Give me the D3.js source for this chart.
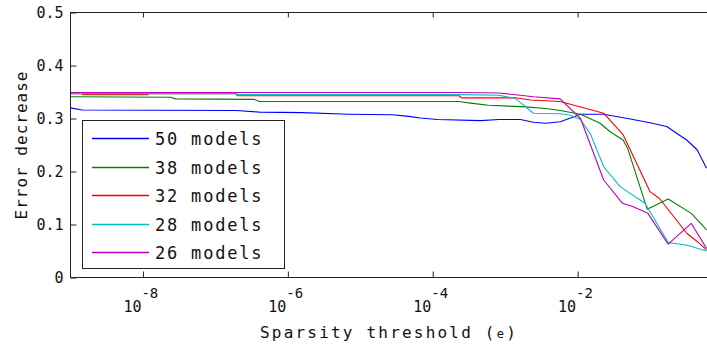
<!DOCTYPE html>
<html>
<head>
<meta charset="utf-8">
<script src="https://cdn.jsdelivr.net/npm/d3@7"></script>
<style>
  body { margin: 0; background: #fff; }
  text { font-family: "DejaVu Sans Mono", monospace; fill: #111; }
</style>
</head>
<body>
<script>
// tick values (10^0 sits past the right edge of the window)
const xTickExps = [-8, -6, -4, -2];
const yTicks = [0, 0.1, 0.2, 0.3, 0.4, 0.5];

// legend labels, in plot order
const seriesNames = ['50 models', '38 models', '32 models', '28 models', '26 models'];

// each point: [log10(threshold), error decrease]
const models50 = [
  [-9.0, 0.320], [-8.84, 0.316], [-6.71, 0.315], [-6.39, 0.312], [-5.80, 0.311],
  [-5.16, 0.308], [-4.56, 0.307], [-4.33, 0.304], [-4.17, 0.301], [-3.93, 0.298],
  [-3.34, 0.296], [-3.09, 0.298], [-2.79, 0.298], [-2.61, 0.293], [-2.44, 0.291],
  [-2.24, 0.294], [-2.06, 0.303], [-1.96, 0.308], [-1.64, 0.308], [-1.31, 0.300],
  [-1.00, 0.292], [-0.77, 0.285], [-0.49, 0.259], [-0.35, 0.241], [-0.22, 0.206]
];
const models38 = [
  [-9.0, 0.341], [-7.62, 0.340], [-7.55, 0.337], [-6.46, 0.336], [-6.39, 0.332],
  [-3.64, 0.332], [-3.48, 0.329], [-3.23, 0.325], [-2.72, 0.322], [-2.44, 0.319],
  [-2.24, 0.315], [-1.96, 0.308], [-1.69, 0.291], [-1.55, 0.275], [-1.37, 0.259],
  [-1.31, 0.244], [-1.04, 0.129], [-0.75, 0.148], [-0.43, 0.121], [-0.22, 0.090]
];
const models32 = [
  [-9.0, 0.347], [-8.84, 0.347], [-8.83, 0.345], [-7.93, 0.345], [-7.92, 0.347],
  [-6.71, 0.347], [-6.70, 0.343], [-3.64, 0.343], [-3.60, 0.339], [-2.86, 0.339],
  [-2.65, 0.335], [-2.24, 0.332], [-1.64, 0.310], [-1.37, 0.269], [-1.00, 0.162],
  [-0.87, 0.149], [-0.49, 0.083], [-0.35, 0.068], [-0.22, 0.052]
];
const models28 = [
  [-9.0, 0.347], [-6.71, 0.347], [-6.70, 0.345], [-3.64, 0.345], [-3.09, 0.344],
  [-2.86, 0.338], [-2.61, 0.310], [-2.24, 0.309], [-2.10, 0.306], [-1.96, 0.298],
  [-1.82, 0.270], [-1.64, 0.209], [-1.41, 0.171], [-1.07, 0.140], [-0.75, 0.066],
  [-0.49, 0.061], [-0.22, 0.050]
];
const models26 = [
  [-9.0, 0.349], [-3.64, 0.349], [-3.09, 0.348], [-2.79, 0.344], [-2.61, 0.341],
  [-2.24, 0.337], [-1.96, 0.300], [-1.64, 0.184], [-1.38, 0.140], [-1.24, 0.134],
  [-1.03, 0.121], [-0.75, 0.063], [-0.43, 0.102], [-0.22, 0.055]
];

const allSeries = [models50, models38, models32, models28, models26];
const colors = ['#0000ff', '#008000', '#ff0000', '#00bfbf', '#bf00bf'];

// layout
const W = 707, H = 349;
const margin = { top: 12.5, left: 70.5 };
const plotW = 652;   // right edge falls outside the window, as in the reference
const plotH = 265;

const svg = d3.select('body').append('svg')
  .attr('width', W)
  .attr('height', H);

const g = svg.append('g')
  .attr('transform', 'translate(' + margin.left + ',' + margin.top + ')');

const x = d3.scaleLog().domain([1e-9, 1]).range([0, plotW]);
const y = d3.scaleLinear().domain([0, 0.5]).range([plotH, 0]);

// clip for the lines
g.append('clipPath').attr('id', 'clip')
  .append('rect').attr('x', 0).attr('y', 0).attr('width', plotW).attr('height', plotH);

// lines
const line = d3.line()
  .x(d => x(Math.pow(10, d[0])))
  .y(d => y(d[1]));

allSeries.forEach((s, i) => {
  g.append('path')
    .datum(s)
    .attr('clip-path', 'url(#clip)')
    .attr('fill', 'none')
    .attr('stroke', colors[i])
    .attr('stroke-width', 1.1)
    .attr('stroke-linejoin', 'round')
    .attr('d', line);
});

// axes box
g.append('rect')
  .attr('x', 0).attr('y', 0)
  .attr('width', plotW).attr('height', plotH)
  .attr('fill', 'none')
  .attr('stroke', '#222')
  .attr('stroke-width', 1);

const xTicks = xTickExps.map(e => Math.pow(10, e));

// bottom axis - ticks only, labels done by hand below
const xAxis = g.append('g')
  .attr('transform', 'translate(0,' + plotH + ')')
  .call(d3.axisBottom(x).tickValues(xTicks).tickSizeInner(-6).tickSizeOuter(0).tickFormat(''));
xAxis.select('.domain').remove();
xAxis.selectAll('line').attr('stroke', '#222');

// top ticks
const xTop = g.append('g')
  .call(d3.axisTop(x).tickValues(xTicks).tickSizeInner(-5).tickSizeOuter(0).tickFormat(''));
xTop.select('.domain').remove();
xTop.selectAll('line').attr('stroke', '#222');

// 10^n labels
xAxis.selectAll('.tick').each(function (d) {
  const t = d3.select(this);
  const e = Math.round(Math.log10(d));
  t.append('text')
    .attr('x', -2).attr('y', 34)
    .attr('text-anchor', 'end')
    .attr('font-size', 15)
    .attr('fill', '#111')
    .text('10');
  t.append('text')
    .attr('x', -2).attr('y', 20)
    .attr('text-anchor', 'start')
    .attr('font-size', 14)
    .attr('fill', '#111')
    .text('-' + Math.abs(e));
});

// left axis
const yAxis = g.append('g')
  .call(d3.axisLeft(y).tickValues(yTicks).tickSizeInner(-6).tickSizeOuter(0).tickPadding(7)
    .tickFormat(d => d === 0 ? '0' : d3.format('.1f')(d)));
yAxis.select('.domain').remove();
yAxis.selectAll('line').attr('stroke', '#222');
yAxis.selectAll('text')
  .attr('font-family', '"DejaVu Sans Mono", monospace')
  .attr('font-size', 15)
  .attr('fill', '#111');

// axis titles
svg.append('text')
  .attr('transform', 'translate(27,' + (margin.top + plotH / 2) + ') rotate(-90)')
  .attr('text-anchor', 'middle')
  .attr('font-size', 16)
  .attr('letter-spacing', 1)
  .text('Error decrease');

const xl = svg.append('text')
  .attr('x', 389).attr('y', 338)
  .attr('text-anchor', 'middle')
  .attr('font-size', 16)
  .attr('letter-spacing', 2.2);
xl.append('tspan').text('Sparsity threshold (');
xl.append('tspan').attr('font-size', 12).text('e');
xl.append('tspan').text(')');

// legend
const legend = svg.append('g');
legend.append('rect')
  .attr('x', 82.5).attr('y', 120.5)
  .attr('width', 202).attr('height', 148)
  .attr('fill', '#fff')
  .attr('stroke', '#222');

seriesNames.forEach((name, i) => {
  const ly = Math.round(138 + i * 28.5) + 0.5;
  legend.append('line')
    .attr('x1', 92).attr('x2', 149)
    .attr('y1', ly).attr('y2', ly)
    .attr('stroke', colors[i])
    .attr('stroke-width', 1.5);
  legend.append('text')
    .attr('x', 155).attr('y', ly + 6.5)
    .attr('font-size', 17)
    .attr('letter-spacing', 1.8)
    .text(name);
});
</script>
</body>
</html>
